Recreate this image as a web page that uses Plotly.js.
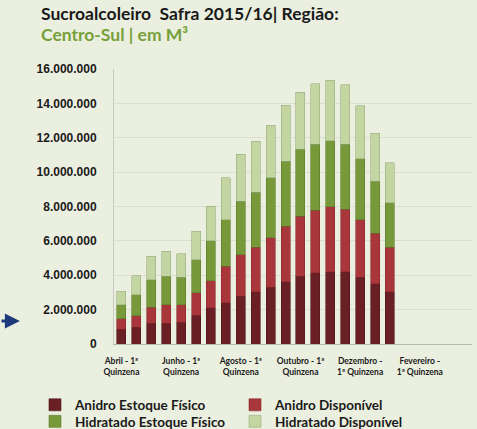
<!DOCTYPE html>
<html><head><meta charset="utf-8">
<script src="https://cdn.plot.ly/plotly-3.0.1.min.js"></script>
<style>html,body{margin:0;padding:0;background:#ebefdf;}</style>
</head><body>
<div id="chart" style="width:477px;height:429px;"></div>
<script>
const categories = [
  "Abril - 1ª Quinzena","Abril - 2ª Quinzena","Maio - 1ª Quinzena","Maio - 2ª Quinzena",
  "Junho - 1ª Quinzena","Junho - 2ª Quinzena","Julho - 1ª Quinzena","Julho - 2ª Quinzena",
  "Agosto - 1ª Quinzena","Agosto - 2ª Quinzena","Setembro - 1ª Quinzena","Setembro - 2ª Quinzena",
  "Outubro - 1ª Quinzena","Outubro - 2ª Quinzena","Novembro - 1ª Quinzena","Novembro - 2ª Quinzena",
  "Dezembro - 1ª Quinzena","Dezembro - 2ª Quinzena","Janeiro - 1ª Quinzena","Janeiro - 2ª Quinzena",
  "Fevereiro - 1ª Quinzena","Fevereiro - 2ª Quinzena","Março - 1ª Quinzena","Março - 2ª Quinzena"
];
const tickCategories = ["Abril - 1ª Quinzena","Junho - 1ª Quinzena","Agosto - 1ª Quinzena","Outubro - 1ª Quinzena","Dezembro - 1ª Quinzena","Fevereiro - 1ª Quinzena"];
const tickLabels = ["Abril - 1ª<br>Quinzena","Junho - 1ª<br>Quinzena","Agosto - 1ª<br>Quinzena","Outubro - 1ª<br>Quinzena","Dezembro -<br>1ª Quinzena","Fevereiro -<br>1ª Quinzena"];

const anidroEstoque = [870000,970000,1220000,1220000,1280000,1670000,2100000,2390000,2780000,3030000,3300000,3610000,3940000,4140000,4210000,4210000,3880000,3500000,3030000];
const anidroDisponivel = [590000,680000,920000,1070000,1010000,1300000,1590000,2130000,2420000,2600000,2870000,3240000,3500000,3630000,3770000,3620000,3360000,2930000,2600000];
const hidratadoEstoque = [830000,1220000,1610000,1650000,1590000,1940000,2330000,2720000,3110000,3200000,3500000,3790000,3880000,3840000,3860000,3780000,3540000,3050000,2580000];
const hidratadoDisponivel = [780000,1110000,1360000,1460000,1360000,1650000,2000000,2430000,2720000,2960000,3050000,3260000,3340000,3540000,3500000,3480000,3080000,2790000,2330000];

const yTicks = [0,2000000,4000000,6000000,8000000,10000000,12000000,14000000,16000000];
const yTickLabels = ["0","2.000.000","4.000.000","6.000.000","8.000.000","10.000.000","12.000.000","14.000.000","16.000.000"];

const xs = categories.slice(0, anidroEstoque.length);
function tr(name, y, color, line, leg) {
  return {type:'bar', name:name, x:xs, y:y, legend:leg,
    marker:{color:color, line:{color:line, width:0.6}}, hoverinfo:'y'};
}
const data = [
  tr('Anidro Estoque Físico', anidroEstoque, '#6a1f24', '#4e161a', 'legend'),
  tr('Anidro Disponível', anidroDisponivel, '#a8363a', '#8a2a2e', 'legend2'),
  tr('Hidratado Estoque Físico', hidratadoEstoque, '#77993a', '#5e7a2c', 'legend3'),
  tr('Hidratado Disponível', hidratadoDisponivel, '#c3d6a2', '#9aab80', 'legend4')
];
function leg(x, y) {
  return {orientation:'v', x:x, xanchor:'left', y:y, yanchor:'middle', traceorder:'normal',
    bgcolor:'rgba(0,0,0,0)', borderwidth:0, itemwidth:30,
    font:{family:'Lato, sans-serif', size:13.5, color:'#1a1a1a', weight:'bold'}};
}
const layout = {
  width:477, height:429,
  paper_bgcolor:'#ebefdf', plot_bgcolor:'#ebefdf',
  margin:{l:114, r:5, t:69, b:85, autoexpand:false},
  barmode:'stack', bargap:0.4,
  showlegend:true,
  font:{family:'Liberation Sans, Arial, sans-serif', color:'#1a1a1a'},
  xaxis:{type:'category', categoryorder:'array', categoryarray:categories, range:[-0.5, 23.5],
    tickmode:'array', tickvals:tickCategories, ticktext:tickLabels, tickangle:0, ticklabelstandoff:9,
    tickfont:{family:'Lato, sans-serif', size:8.5, color:'#1a1a1a', weight:'bold'},
    showline:true, linecolor:'#b5b9ad', linewidth:1, ticks:'', showgrid:false, zeroline:false, fixedrange:true},
  yaxis:{range:[0,16000000], tickmode:'array', tickvals:yTicks, ticktext:yTickLabels, ticklabelstandoff:14,
    tickfont:{family:'Liberation Sans, Arial, sans-serif', size:12, color:'#1a1a1a', weight:'bold'},
    showline:true, linecolor:'#c8ccc0', linewidth:1, gridcolor:'#dadfcf', gridwidth:1, zeroline:false, ticks:'', fixedrange:true},
  legend: leg(-0.2207, -0.222),
  legend2: leg(0.338, -0.222),
  legend3: leg(-0.2207, -0.282),
  legend4: leg(0.338, -0.282),
  annotations:[
    {xref:'paper', yref:'paper', x:-0.209, y:1.2036, xanchor:'left', yanchor:'middle', showarrow:false,
      text:'<b>Sucroalcoleiro  Safra 2015/16| Região:</b>', font:{family:'Lato, sans-serif', size:17.5, color:'#1a1a1a'}},
    {xref:'paper', yref:'paper', x:-0.209, y:1.127, xanchor:'left', yanchor:'middle', showarrow:false,
      text:'<b>Centro-Sul | em M³</b>', font:{family:'Lato, sans-serif', size:17.5, color:'#77a03a'}},
    {xref:'paper', yref:'paper', x:-0.263, y:0.084, ax:-21, ay:0, showarrow:true,
      arrowhead:2, arrowsize:1, arrowwidth:3, arrowcolor:'#1f3a7a', text:''}
  ]
};
Plotly.newPlot('chart', data, layout, {displayModeBar:false, staticPlot:true});
</script>
</body></html>
